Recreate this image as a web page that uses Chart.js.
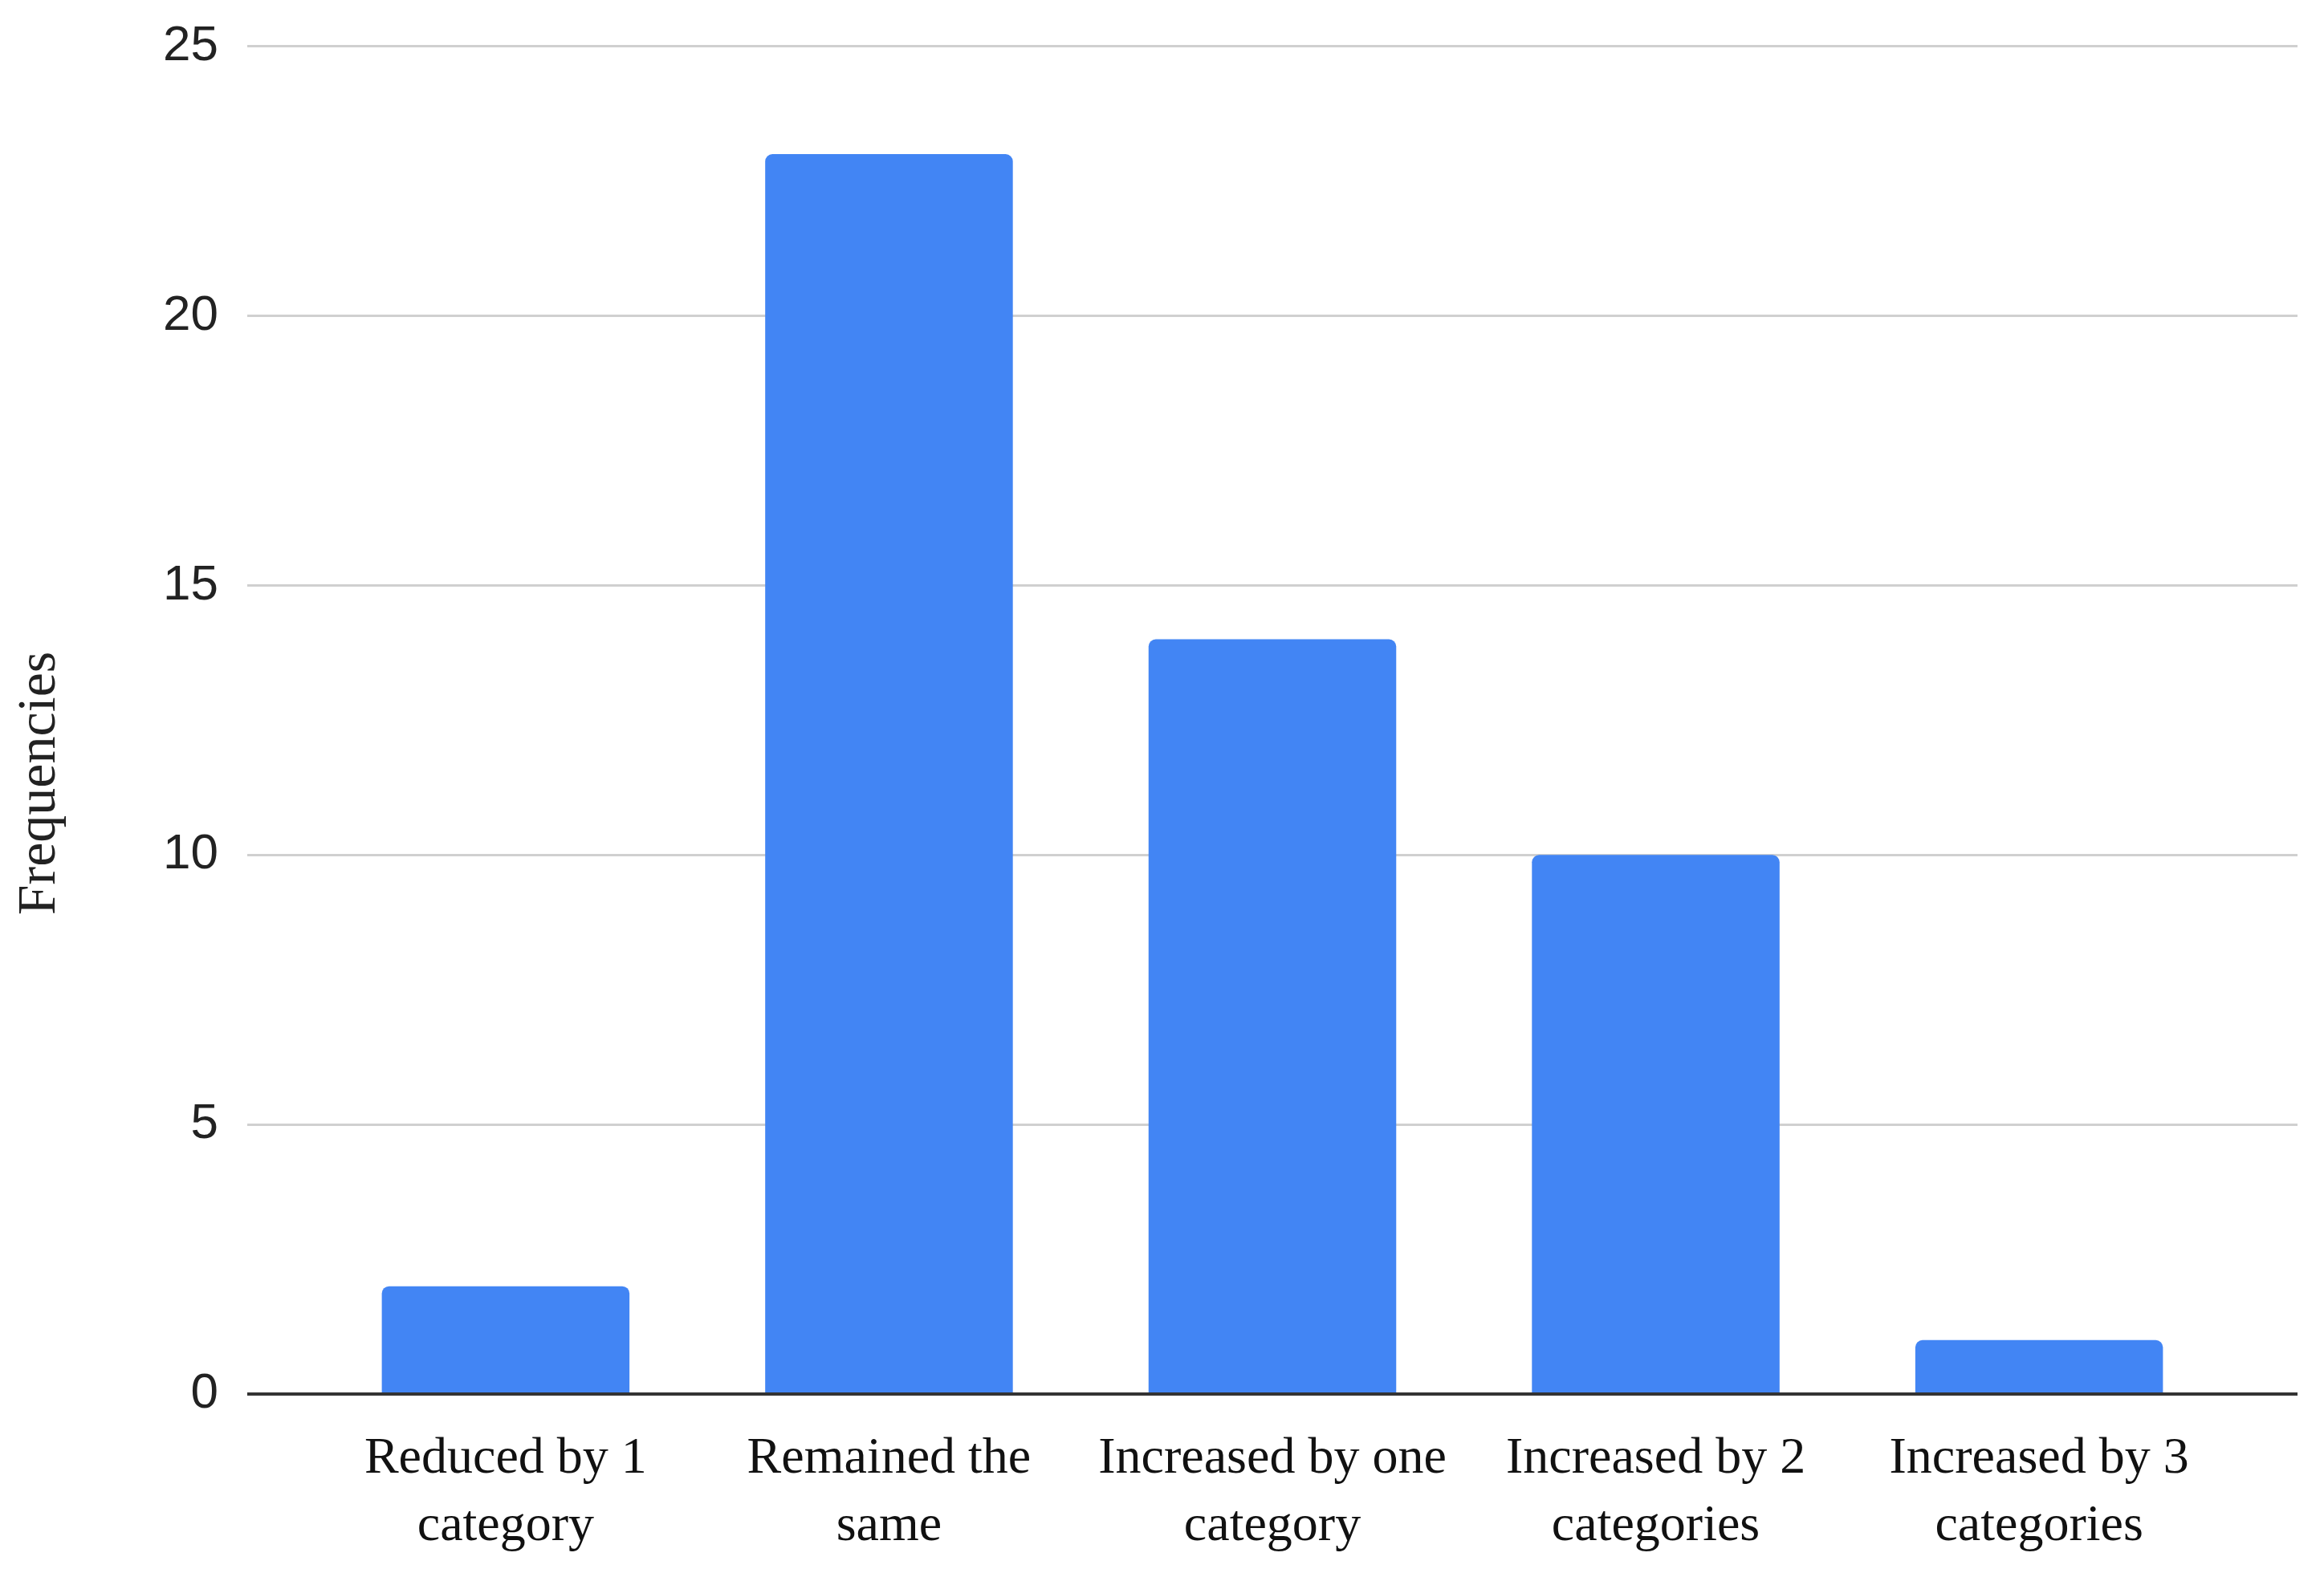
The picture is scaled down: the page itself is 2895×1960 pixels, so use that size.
<!DOCTYPE html>
<html>
<head>
<meta charset="utf-8">
<script src="https://cdn.jsdelivr.net/npm/chart.js@4.4.1/dist/chart.umd.min.js"></script>
<style>
    html, body { margin: 0; padding: 0; background: #fff; }
    canvas { display: block; }
</style>
</head>
<body>
<canvas id="freqChart" width="2895" height="1960"></canvas>
<script>
// Chart data
const categories = [
    ['Reduced by 1', 'category'],
    ['Remained the', 'same'],
    ['Increased by one', 'category'],
    ['Increased by 2', 'categories'],
    ['Increased by 3', 'categories']
];
const frequencies = [2, 23, 14, 10, 1];
const yTicks = [0, 5, 10, 15, 20, 25];
const yTitle = 'Frequencies';

/**
 * Rotated y axis title, centred on the canvas height
 */
const yTitlePlugin = {
    id: 'yTitle',
    afterDraw(chart) {
        const ctx = chart.ctx;
        ctx.save();
        ctx.translate(50, chart.height / 2 - 4);
        ctx.rotate(-Math.PI / 2);
        ctx.font = '68px "Liberation Serif", "Times New Roman", serif';
        ctx.fillStyle = '#222';
        ctx.textAlign = 'center';
        ctx.textBaseline = 'middle';
        ctx.fillText(yTitle, 0, 0);
        ctx.restore();
    }
};

document.addEventListener('DOMContentLoaded', function () {
    const ctx = document.getElementById('freqChart');

    new Chart(ctx, {
        type: 'bar',
        data: {
            datasets: [{
                data: frequencies.map((v, i) => ({ x: i, y: v })),
                backgroundColor: '#4285F4',
                borderRadius: { topLeft: 9, topRight: 9 },
                borderSkipped: 'start',
                barPercentage: 0.646,
                categoryPercentage: 1
            }]
        },
        options: {
            responsive: false,
            devicePixelRatio: 1,
            animation: false,
            layout: {
                padding: { top: 47, right: 33, left: 0, bottom: 0 }
            },
            plugins: {
                legend: { display: false },
                tooltip: { enabled: false }
            },
            scales: {
                x: {
                    type: 'linear',
                    offset: false,
                    min: -0.674,
                    max: 4.674,
                    afterBuildTicks: function (axis) {
                        axis.ticks = categories.map((c, i) => ({ value: i }));
                    },
                    afterFit: function (axis) {
                        axis.height = 223;
                    },
                    grid: { display: false },
                    border: { display: false },
                    ticks: {
                        autoSkip: false,
                        maxRotation: 0,
                        padding: 31,
                        color: '#111',
                        font: { family: '"Liberation Serif", "Times New Roman", serif', size: 64, lineHeight: 1.31 },
                        callback: function (value) {
                            return categories[value];
                        }
                    }
                },
                y: {
                    min: 0,
                    max: 25,
                    afterBuildTicks: function (axis) {
                        axis.ticks = yTicks.map(v => ({ value: v }));
                    },
                    afterFit: function (axis) {
                        axis.width = 308;
                    },
                    border: { display: false },
                    grid: {
                        drawTicks: false,
                        color: function (c) {
                            return c.tick.value === 0 ? '#333' : '#d0d0d0';
                        },
                        lineWidth: function (c) {
                            return c.tick.value === 0 ? 4 : 3;
                        }
                    },
                    ticks: {
                        padding: 36,
                        color: '#222',
                        font: { family: '"Liberation Sans", Arial, sans-serif', size: 62, lineHeight: 0.7 }
                    }
                }
            }
        },
        plugins: [yTitlePlugin]
    });
});
</script>
</body>
</html>
